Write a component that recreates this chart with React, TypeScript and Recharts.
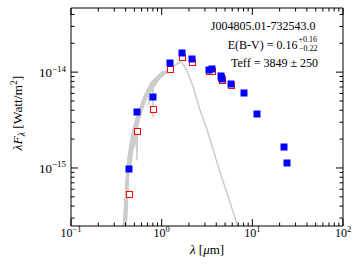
import { ComposedChart, Area, Line, Scatter, XAxis, YAxis, Label } from "recharts";

const FONT = "'Liberation Serif', 'DejaVu Serif', serif";
const INK = "#000";

// observed photometry (micron, W/m^2)
const obsLam = [0.435, 0.535, 0.794, 1.23, 1.66, 2.16, 3.3, 3.59, 4.47, 4.62, 5.8, 8.0, 11.4, 22.1, 24.0];
const obsFlux = [9.8e-16, 3.85e-15, 5.52e-15, 1.25e-14, 1.59e-14, 1.36e-14, 1.05e-14, 1.07e-14, 9.2e-15, 8.4e-15, 7.55e-15, 6.1e-15, 3.66e-15, 1.66e-15, 1.12e-15];

// model photometry
const modelLam = [0.435, 0.535, 0.794, 1.23, 1.66, 2.16, 3.3, 3.59, 4.47, 4.62, 5.8];
const modelFlux = [5.4e-16, 2.46e-15, 4.17e-15, 1.09e-14, 1.45e-14, 1.29e-14, 1.02e-14, 1.04e-14, 9.0e-15, 8.2e-15, 7.4e-15];

// model spectrum, noisy optical part as an envelope
const bandLam = [0.3745, 0.394, 0.414, 0.435, 0.459, 0.483, 0.521, 0.535, 0.548, 0.576, 0.622, 0.671, 0.71, 0.724, 0.74, 0.762, 0.795, 0.802, 0.81, 0.844, 0.91, 1.0, 1.087, 1.18];
const bandLow = [1.77e-16, 2.0e-16, 2.9e-16, 8.45e-16, 1.07e-15, 1.54e-15, 1.86e-15, 1.2e-15, 2.79e-15, 3.3e-15, 4.2e-15, 5.1e-15, 5.8e-15, 4.6e-15, 6.0e-15, 6.18e-15, 6.6e-15, 3.39e-15, 6.9e-15, 7.14e-15, 8.05e-15, 8.87e-15, 9.5e-15, 1.0e-14];
const bandHigh = [2.48e-16, 5.22e-16, 1.07e-15, 1.54e-15, 2.06e-15, 2.6e-15, 3.3e-15, 3.55e-15, 3.82e-15, 4.3e-15, 5.35e-15, 6.3e-15, 6.9e-15, 7.15e-15, 7.5e-15, 7.87e-15, 8.2e-15, 8.25e-15, 8.3e-15, 8.66e-15, 9.3e-15, 1.0e-14, 1.02e-14, 1.05e-14];

// model spectrum, smooth infrared part
const curveLam = [1.0, 1.04, 1.18, 1.29, 1.4, 1.52, 1.65, 1.89, 2.23, 2.65, 3.13, 4.39, 5.67, 6.68, 7.3];
const curveFlux = [9.6e-15, 1.0e-14, 1.05e-14, 1.14e-14, 1.18e-14, 1.23e-14, 1.28e-14, 1.05e-14, 7.0e-15, 4.0e-15, 2.6e-15, 9.1e-16, 4.4e-16, 2.7e-16, 2.1e-16];

const xTicks = [0.1, 0.2, 0.3, 0.4, 0.5, 0.6, 0.7, 0.8, 0.9, 1, 2, 3, 4, 5, 6, 7, 8, 9, 10, 20, 30, 40, 50, 60, 70, 80, 90, 100];
const yTicks = [3e-16, 4e-16, 5e-16, 6e-16, 7e-16, 8e-16, 9e-16, 1e-15, 2e-15, 3e-15, 4e-15, 5e-15, 6e-15, 7e-15, 8e-15, 9e-15, 1e-14, 2e-14, 3e-14, 4e-14];

const spectrum = [
  ...bandLam.map((lam, i) => ({ lam, band: [bandLow[i], bandHigh[i]] })),
  ...curveLam.map((lam, i) => ({ lam, curve: curveFlux[i] })),
].sort((a, b) => a.lam - b.lam);

const obs = obsLam.map((lam, i) => ({ lam, flux: obsFlux[i] }));
const model = modelLam.map((lam, i) => ({ lam, flux: modelFlux[i] }));

const isMajor = (v: number) => Math.abs(Math.log10(v) - Math.round(Math.log10(v))) < 1e-6;
const expText = (v: number) => {
  const e = Math.round(Math.log10(v));
  return e < 0 ? "\u2212" + -e : String(e);
};

const BottomTick = ({ x, y, payload }: any) => {
  const major = isMajor(payload.value);
  return (
    <g>
      <line x1={x} x2={x} y1={y} y2={y - (major ? 7 : 3.5)} stroke={INK} />
      {major && (
        <text x={x} y={y + 11} textAnchor="middle" fontFamily={FONT} fontSize={12} fill={INK}>
          10<tspan dy={-5} fontSize={8.5}>{expText(payload.value)}</tspan>
        </text>
      )}
    </g>
  );
};

const TopTick = ({ x, y, payload }: any) => (
  <line x1={x} x2={x} y1={y} y2={y + (isMajor(payload.value) ? 7 : 3.5)} stroke={INK} />
);

const LeftTick = ({ x, y, payload }: any) => {
  const major = isMajor(payload.value);
  return (
    <g>
      <line x1={x} x2={x + (major ? 7 : 3.5)} y1={y} y2={y} stroke={INK} />
      {major && (
        <text x={x - 5} y={y + 5} textAnchor="end" fontFamily={FONT} fontSize={13} fill={INK}>
          10<tspan dy={-5.5} fontSize={9}>{expText(payload.value)}</tspan>
        </text>
      )}
    </g>
  );
};

const RightTick = ({ x, y, payload }: any) => (
  <line x1={x} x2={x - (isMajor(payload.value) ? 7 : 3.5)} y1={y} y2={y} stroke={INK} />
);

const XTitle = ({ viewBox }: any) => (
  <text x={viewBox.x + viewBox.width / 2} y={viewBox.y + 28} textAnchor="middle" fontFamily={FONT} fontSize={13} fill={INK}>
    <tspan fontStyle="italic">λ</tspan> [<tspan fontStyle="italic">μ</tspan>m]
  </text>
);

const YTitle = ({ viewBox }: any) => {
  const cx = viewBox.x + 11;
  const cy = viewBox.y + viewBox.height / 2 - 4;
  return (
    <text transform={`translate(${cx},${cy}) rotate(-90)`} textAnchor="middle" fontFamily={FONT} fontSize={13.5} fill={INK}>
      <tspan fontStyle="italic">λF</tspan>
      <tspan fontStyle="italic" fontSize={9.5} dy={3}>λ</tspan>
      <tspan dy={-3}> [Watt/m</tspan>
      <tspan fontSize={9.5} dy={-5}>2</tspan>
      <tspan dy={5}>]</tspan>
    </text>
  );
};

const blueSquare = ({ cx, cy }: any) => (
  <rect x={Math.round(cx) - 3.5} y={Math.round(cy) - 3.5} width={7} height={7} fill="#0000ff" />
);
const redSquare = ({ cx, cy }: any) => (
  <rect x={Math.round(cx) - 2.5} y={Math.round(cy) - 2.5} width={6} height={6} fill="#fff" stroke="#ff0000" strokeWidth={1} />
);

export default function App() {
  return (
    <div style={{ position: "absolute", left: 0, top: 0, width: 354, height: 266, background: "#fff" }}>
      <ComposedChart width={354} height={266} data={spectrum} margin={{ top: 3, right: 6, bottom: 0, left: 11 }}>
        <XAxis
          dataKey="lam"
          type="number"
          scale="log"
          domain={[0.1, 100]}
          allowDataOverflow
          ticks={xTicks}
          interval={0}
          tickSize={0}
          tickMargin={0}
          height={40}
          tick={<BottomTick />}
          axisLine={{ stroke: INK }}
        >
          <Label content={<XTitle />} />
        </XAxis>
        <XAxis
          xAxisId="top"
          orientation="top"
          dataKey="lam"
          type="number"
          scale="log"
          domain={[0.1, 100]}
          allowDataOverflow
          ticks={xTicks}
          interval={0}
          tickSize={0}
          tickMargin={0}
          height={5}
          tick={<TopTick />}
          axisLine={{ stroke: INK }}
        />
        <YAxis
          dataKey="flux"
          type="number"
          scale="log"
          domain={[2.48e-16, 4.67e-14]}
          allowDataOverflow
          ticks={yTicks}
          interval={0}
          tickSize={0}
          tickMargin={0}
          width={60}
          tick={<LeftTick />}
          axisLine={{ stroke: INK }}
        >
          <Label content={<YTitle />} />
        </YAxis>
        <YAxis
          yAxisId="right"
          orientation="right"
          dataKey="flux"
          type="number"
          scale="log"
          domain={[2.48e-16, 4.67e-14]}
          allowDataOverflow
          ticks={yTicks}
          interval={0}
          tickSize={0}
          tickMargin={0}
          width={5}
          tick={<RightTick />}
          axisLine={{ stroke: INK }}
        />
        <Area
          dataKey="band"
          type="linear"
          connectNulls
          stroke="#cccccc"
          strokeWidth={1}
          fill="#cccccc"
          fillOpacity={1}
          dot={false}
          activeDot={false}
          isAnimationActive={false}
        />
        <Line
          dataKey="curve"
          type="linear"
          connectNulls
          stroke="#cccccc"
          strokeWidth={1.5}
          dot={false}
          activeDot={false}
          isAnimationActive={false}
        />
        <Scatter data={model} dataKey="flux" shape={redSquare} isAnimationActive={false} />
        <Scatter data={obs} dataKey="flux" shape={blueSquare} isAnimationActive={false} />
      </ComposedChart>
      <svg width={354} height={266} style={{ position: "absolute", left: 0, top: 0, pointerEvents: "none" }}>
        <g fontFamily={FONT} fontSize={12} fill={INK}>
          <text x={315.5} y={30} textAnchor="end">J004805.01-732543.0</text>
          <text x={297.5} y={49} textAnchor="end">E(B-V) = 0.16</text>
          <text x={298.5} y={42} fontSize={8}>+0.16</text>
          <text x={317.5} y={51} fontSize={8} textAnchor="end">{"\u22120.22"}</text>
          <text x={318} y={66.5} textAnchor="end">Teff = 3849 ± 250</text>
        </g>
      </svg>
    </div>
  );
}
